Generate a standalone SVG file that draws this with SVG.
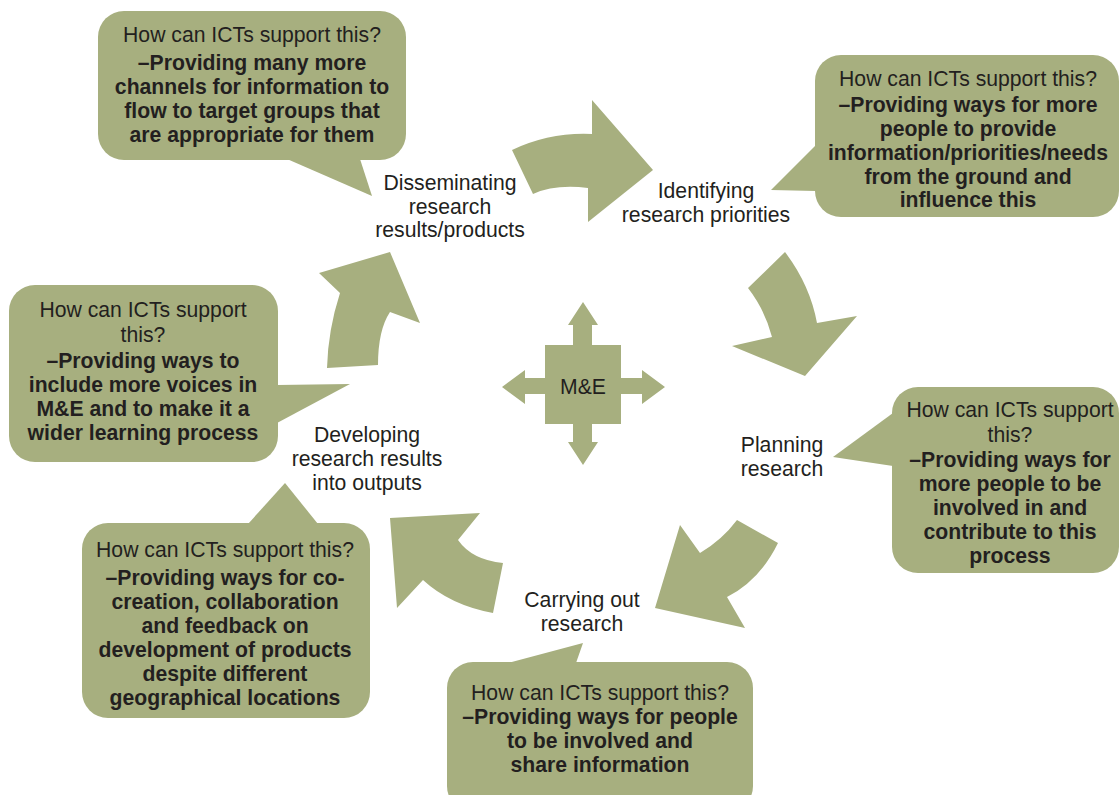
<svg xmlns="http://www.w3.org/2000/svg" width="1120" height="795" viewBox="0 0 1120 795">
<style>
.sh{fill:#a7af7f;stroke:none}
text{font-family:"Liberation Sans",Arial,sans-serif;font-size:21.2px;fill:#231f20;text-anchor:middle}
.b{font-weight:bold}
</style>
<rect width="1120" height="795" fill="#ffffff"/>
<g id="connectors">
<path class="sh" d="M512,150 Q550,132 592,134 L592,100 L653,170 L588,222 L588,188 Q555,184 533,194 Z"/>
<path class="sh" d="M785,252 Q810,285 817,323 L857,316 L805,376 L732,346 L772,337 Q765,310 748,288 Z"/>
<path class="sh" d="M737,520 L778,543 Q760,580 727,597 L745,628 L655,608 L680,525 L700,553 Q722,540 737,520 Z"/>
<path class="sh" d="M480,513 L458,540 Q472,560 503,563 L493,613 Q450,605 423,580 L397,608 L390,518 Z"/>
<path class="sh" d="M327,368 L378,365 Q378,330 390,312 L420,323 L390,252 L319,273 L340,293 Q328,330 327,368 Z"/>
</g>
<g id="me">
<path class="sh" d="M545,345 H573 V325 H568 L583,302 L598,325 H592 V345 H621 V378 H642 V370 L665,387 L642,404 V394 H621 V424 H592 V442 H598 L583,465 L568,442 H573 V424 H545 V394 H525 V404 L502,387 L525,370 V378 H545 Z"/>
<text x="583" y="394">M&amp;E</text>
</g>
<g id="stage-disseminating">
<text x="450" y="190">Disseminating</text>
<text x="450" y="214">research</text>
<text x="450" y="237">results/products</text>
</g>
<g id="stage-identifying">
<text x="706" y="198">Identifying</text>
<text x="706" y="222">research priorities</text>
</g>
<g id="stage-planning">
<text x="782" y="452">Planning</text>
<text x="782" y="476">research</text>
</g>
<g id="stage-carrying">
<text x="582" y="607">Carrying out</text>
<text x="582" y="631">research</text>
</g>
<g id="stage-developing">
<text x="367" y="442">Developing</text>
<text x="367" y="466">research results</text>
<text x="367" y="490">into outputs</text>
</g>
<g id="callout-disseminating">
<rect class="sh" x="98" y="11" width="308" height="149" rx="26"/>
<polygon class="sh" points="287,159 372,196 360,159"/>
<text x="252" y="42">How can ICTs support this?</text>
<text class="b" x="252" y="70">–Providing many more</text>
<text class="b" x="252" y="94">channels for information to</text>
<text class="b" x="252" y="118">flow to target groups that</text>
<text class="b" x="252" y="142">are appropriate for them</text>
</g>
<g id="callout-identifying">
<rect class="sh" x="815" y="55" width="304" height="162" rx="26"/>
<polygon class="sh" points="816,145 771,190 816,191"/>
<text x="968" y="86">How can ICTs support this?</text>
<text class="b" x="968" y="112">–Providing ways for more</text>
<text class="b" x="968" y="136">people to provide</text>
<text class="b" x="968" y="160">information/priorities/needs</text>
<text class="b" x="968" y="184">from the ground and</text>
<text class="b" x="968" y="207">influence this</text>
</g>
<g id="callout-planning">
<rect class="sh" x="892" y="387" width="227" height="186" rx="26"/>
<polygon class="sh" points="893,413 833,457 893,466"/>
<text x="1010" y="417">How can ICTs support</text>
<text x="1010" y="442">this?</text>
<text class="b" x="1010" y="467">–Providing ways for</text>
<text class="b" x="1010" y="491">more people to be</text>
<text class="b" x="1010" y="515">involved in and</text>
<text class="b" x="1010" y="539">contribute to this</text>
<text class="b" x="1010" y="563">process</text>
</g>
<g id="callout-carrying">
<rect class="sh" x="447" y="662" width="306" height="150" rx="26"/>
<polygon class="sh" points="508,663 583,643 576,663"/>
<text x="600" y="700">How can ICTs support this?</text>
<text class="b" x="600" y="724">–Providing ways for people</text>
<text class="b" x="600" y="748">to be involved and</text>
<text class="b" x="600" y="772">share information</text>
</g>
<g id="callout-developing">
<rect class="sh" x="82" y="523" width="288" height="195" rx="26"/>
<polygon class="sh" points="248,524 285,483 318,524"/>
<text x="225" y="557">How can ICTs support this?</text>
<text class="b" x="225" y="585">–Providing ways for co-</text>
<text class="b" x="225" y="609">creation, collaboration</text>
<text class="b" x="225" y="633">and feedback on</text>
<text class="b" x="225" y="657">development of products</text>
<text class="b" x="225" y="681">despite different</text>
<text class="b" x="225" y="705">geographical locations</text>
</g>
<g id="callout-me">
<rect class="sh" x="9" y="285" width="269" height="177" rx="26"/>
<polygon class="sh" points="277,385 350,384 277,423"/>
<text x="143" y="317">How can ICTs support</text>
<text x="143" y="342">this?</text>
<text class="b" x="143" y="368">–Providing ways to</text>
<text class="b" x="143" y="392">include more voices in</text>
<text class="b" x="143" y="416">M&amp;E and to make it a</text>
<text class="b" x="143" y="440">wider learning process</text>
</g>
</svg>
